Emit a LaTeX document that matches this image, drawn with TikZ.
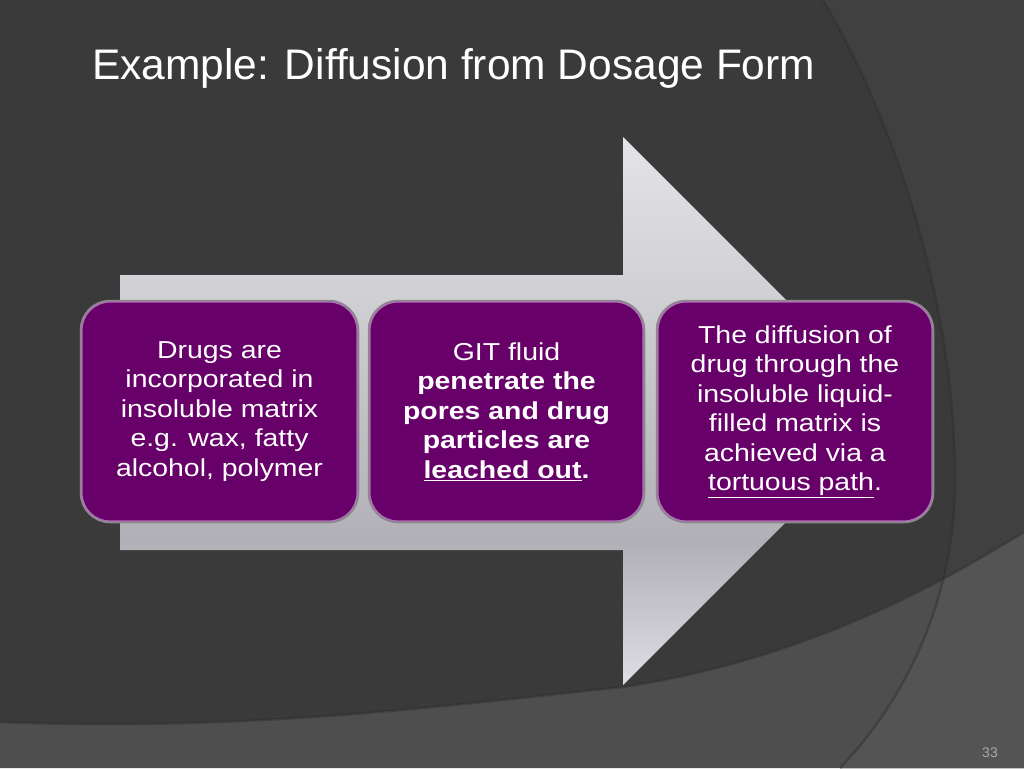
\documentclass[tikz,border=0pt]{standalone}
\usepackage{fontspec}
\setmainfont{Liberation Sans}
\newfontfamily\boxfont[FakeStretch=1.16]{Liberation Sans}
\usepackage{graphicx}
\definecolor{bgmain}{RGB}{58,58,58}
\definecolor{bgright}{RGB}{64,64,64}
\definecolor{bgbot}{RGB}{78,78,78}
\definecolor{bgbotright}{RGB}{84,84,84}
\definecolor{arcline}{RGB}{46,46,46}
\definecolor{arrtop}{RGB}{228,228,232}
\definecolor{arrdark}{RGB}{176,176,182}
\definecolor{arrbot}{RGB}{222,222,228}
\definecolor{boxfill}{RGB}{104,0,106}
\definecolor{boxedge}{RGB}{176,110,182}
\definecolor{rimgray}{RGB}{138,138,140}
\definecolor{pagegray}{RGB}{168,168,168}
\pgfdeclareverticalshading{arrowshade}{100bp}{color(0bp)=(arrbot); color(25bp)=(arrbot); color(38bp)=(arrdark); color(75bp)=(arrtop); color(100bp)=(arrtop)}
\begin{document}
\begin{tikzpicture}[x=1pt,y=-1pt,
  box/.style={draw=boxedge, line width=1.2pt, fill=boxfill, rounded corners=28pt,
    preaction={draw=rimgray, line width=4.5pt},
    minimum height=219pt, text=white, align=center,
    font=\boxfont\fontsize{24.5}{29.5}\selectfont, inner sep=0pt},
  curveline/.style={draw=arcline, line width=2.5pt, opacity=0.45}]
\useasboundingbox (0,0) rectangle (1024,768);
% background
\fill[bgmain] (0,0) rectangle (1024,768);
\def\arcpath{(823,0) .. controls (905,140) and (955,320) .. (955,480) .. controls (955,600) and (905,700) .. (840,768)}
\def\botpath{(0,722) .. controls (250,732) and (450,705) .. (623,687) .. controls (800,660) and (930,590) .. (1024,532)}
\fill[bgright] \arcpath -- (1024,768) -- (1024,0) -- cycle;
\fill[bgbot] \botpath -- (1024,768) -- (0,768) -- cycle;
\begin{scope}
  \clip \arcpath -- (1024,768) -- (1024,0) -- cycle;
  \fill[bgbotright] \botpath -- (1024,768) -- (0,768) -- cycle;
\end{scope}
\draw[curveline] \arcpath;
\draw[curveline] \botpath;
% arrow
\shade[shading=arrowshade] (120,275) -- (623,275) -- (623,137) -- (897,411) -- (623,685) -- (623,550) -- (120,550) -- cycle;
% title
\node[anchor=base west, text=white, inner sep=0pt, font=\fontsize{42}{50}\selectfont] (title) at (92,79)
  {\resizebox{723pt}{31pt}{Example: Diffusion from Dosage Form}};
% boxes
\node[box, minimum width=275pt] (box1) at (219.5,411.5)
  {Drugs are\\incorporated in\\insoluble matrix\\e.g. wax, fatty\\alcohol, polymer};
\node[box, minimum width=273pt] (box2) at (506.5,411.5)
  {GIT fluid\\\textbf{penetrate the}\\\textbf{pores and drug}\\\textbf{particles are}\\\textbf{\underline{leached out}.}};
\node[box, minimum width=274pt] (box3) at (795,411.5)
  {The diffusion of\\drug through the\\insoluble liquid-\\filled matrix is\\achieved via a\\\underline{tortuous path}.};
% page number
\node[anchor=base east, text=pagegray, inner sep=0pt, font=\fontsize{14}{16}\selectfont] (pagenum) at (998,757) {33};
\end{tikzpicture}
\end{document}
